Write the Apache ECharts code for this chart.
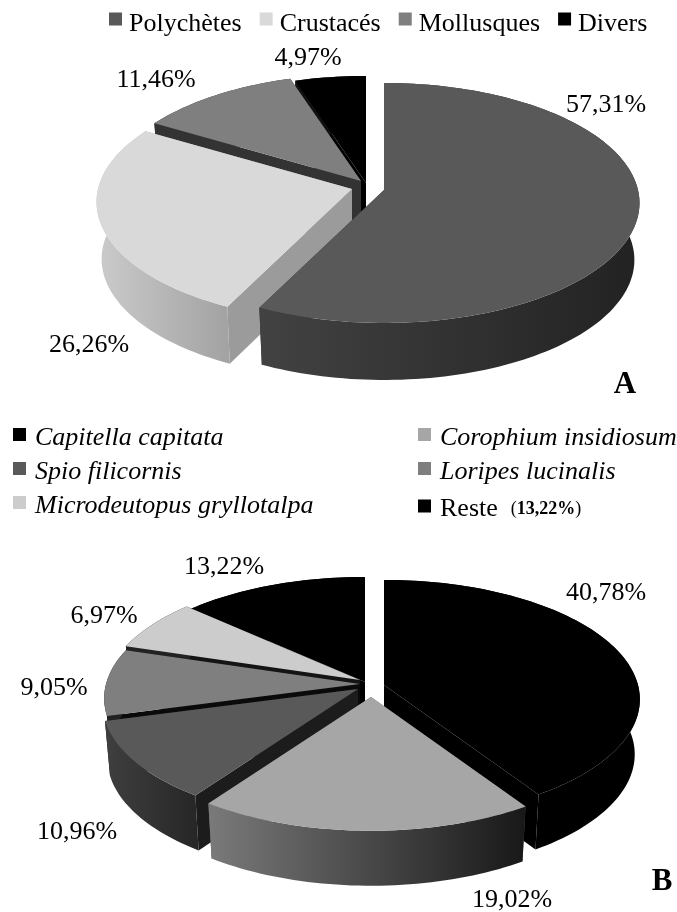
<!DOCTYPE html>
<html><head><meta charset="utf-8">
<style>html,body{margin:0;padding:0;background:#fff}#c{width:677px;height:912px}</style>
<script src="https://cdn.jsdelivr.net/npm/echarts@6/dist/echarts.min.js"></script>
</head><body><div id="c"></div>
<script>
// ---- data ----
const categoriesA = ['Polychètes', 'Crustacés', 'Mollusques', 'Divers'];
const valuesA = [57.31, 26.26, 11.46, 4.97];
const categoriesB = ['Capitella capitata', 'Corophium insidiosum', 'Spio filicornis', 'Loripes lucinalis', 'Microdeutopus gryllotalpa', 'Reste'];
const valuesB = [40.78, 19.02, 10.96, 9.05, 6.97, 13.22];

// ---- styles ----
const FONT = '"Liberation Serif","Times New Roman",serif';
const topA = ['#595959', '#d9d9d9', '#7f7f7f', '#000000'];
const sideA = [['#424242', '#222222'], ['#cbcbcb', '#a2a2a2'], ['#333333', '#333333'], ['#111111', '#111111']];
const faceA = ['#333333', '#9b9b9b', '#333333', '#000000'];
const topB = ['#000000', '#a6a6a6', '#595959', '#7f7f7f', '#cccccc', '#000000'];
const sideB = [['#000000', '#000000'], ['#7a7a7a', '#181818'], ['#3f3f3f', '#262626'], ['#222222', '#222222'], ['#222222', '#222222'], ['#000000', '#000000']];
const faceB = ['#000000', '#5a5a5a', '#1c1c1c', '#0a0a0a', '#141414', '#000000'];

// ---- layout of the two perspective pies ----
const layoutA = {R: 254, Ry: 118.6, p: 0.108, depth: 57, shrink: 0.98,
  apex: [[384, 190], [352, 189], [361, 181], [366, 183]], order: [3, 2, 1, 0]};
const layoutB = {R: 254, Ry: 117.7, p: 0.12, depth: 55, shrink: 0.98,
  apex: [[384, 685], [371, 697], [358, 689], [360, 684], [360, 680], [365, 682]], order: [5, 4, 3, 0, 2, 1]};
const labelPosA = [[606, 105], [89, 345], [156, 80], [308, 58]];
const labelPosB = [[606, 593], [512, 900], [77, 832], [54, 688], [104, 616], [224, 567]];

function project(L, apex, deg, r, bottom) {
  const a = deg * Math.PI / 180, u = r * Math.sin(a), v = r * Math.cos(a), w = 1 + L.p * v;
  const k = bottom ? L.shrink : 1;
  return [apex[0] + k * L.R * u / w, apex[1] - L.Ry * v / w + (bottom ? L.depth : 0)];
}
function arc(L, apex, a0, a1, bottom) {
  const n = Math.max(2, Math.ceil(Math.abs(a1 - a0) / 1.5)), out = [];
  for (let i = 0; i <= n; i++) out.push(project(L, apex, a0 + (a1 - a0) * i / n, 1, bottom));
  return out;
}
function makeSeries(names, values, L, tops, sides, faces) {
  const total = values.reduce((s, x) => s + x, 0);
  let cum = 0;
  return names.map((name, i) => {
    const startPct = cum; cum += values[i];
    return {
      type: 'custom', name, coordinateSystem: 'none', silent: true, animation: false,
      itemStyle: {color: tops[i]}, data: [[values[i], startPct]],
      renderItem(params, api) {
        const a0 = api.value(1) / total * 360, a1 = a0 + api.value(0) / total * 360;
        const apex = L.apex[i], z = L.order.indexOf(i) * 10 + 1;
        const bApex = [apex[0], apex[1] + L.depth];
        const poly = (points, fill, zz) => ({type: 'polygon', shape: {points}, style: {fill, stroke: null}, z2: z + zz});
        const topArc = arc(L, apex, a0, a1, false), botArc = arc(L, apex, a0, a1, true);
        const grad = new echarts.graphic.LinearGradient(0, 0, 1, 0, [{offset: 0, color: sides[i][0]}, {offset: 1, color: sides[i][1]}]);
        return {type: 'group', children: [
          poly([apex, topArc[0], botArc[0], bApex], faces[i], 0),
          poly([apex, topArc[topArc.length - 1], botArc[botArc.length - 1], bApex], faces[i], 0),
          poly(topArc.concat(botArc.slice().reverse()), grad, 1),
          poly([apex].concat(topArc), tops[i], 2)
        ]};
      }
    };
  });
}
const fmt = v => v.toFixed(2).replace('.', ',');
const label = (text, pos, extra) => ({type: 'text', x: pos[0], y: pos[1], z: 50,
  style: Object.assign({text, fill: '#000', font: '26px ' + FONT, align: 'center', verticalAlign: 'middle'}, extra || {})});

const legendBase = {icon: 'rect', itemWidth: 13, itemHeight: 13, selectedMode: false, padding: 0, itemStyle: {borderWidth: 0}};
const base = {fontFamily: FONT, fontSize: 26, color: '#000'};
const textA = Object.assign({}, base, {rich: {t: Object.assign({}, base, {padding: [10, 0, 0, 2]})}});
const textB = Object.assign({}, base, {rich: {
  i: Object.assign({}, base, {fontStyle: 'italic', padding: [7, 0, 0, 4]}),
  n: Object.assign({}, base, {padding: [7, 0, 0, 4]}),
  s: Object.assign({}, base, {fontSize: 18, padding: [7, 0, 0, 0]}),
  b: Object.assign({}, base, {fontSize: 18, fontWeight: 'bold', padding: [7, 0, 0, 0]})}});

const formatA = n => '{t|' + n + '}';
const formatB = n => n === 'Reste' ? '{n|Reste}  {s|(}{b|' + fmt(valuesB[5]) + '%}{s|)}' : '{i|' + n + '}';

const option = {
  backgroundColor: '#fff', animation: false,
  legend: [
    Object.assign({}, legendBase, {data: categoriesA, orient: 'horizontal', left: 109, top: 11, itemGap: 18, textStyle: textA, formatter: formatA}),
    Object.assign({}, legendBase, {data: [categoriesB[0], categoriesB[2], categoriesB[4]], orient: 'vertical', left: 13, top: 425, itemGap: 8, textStyle: textB, formatter: formatB}),
    Object.assign({}, legendBase, {data: [categoriesB[1], categoriesB[3], categoriesB[5]], orient: 'vertical', left: 418, top: 425, itemGap: 8, textStyle: textB, formatter: formatB})
  ],
  graphic: {elements: []
    .concat(valuesA.map((v, i) => label(fmt(v) + '%', labelPosA[i])))
    .concat(valuesB.map((v, i) => label(fmt(v) + '%', labelPosB[i])))
    .concat([label('A', [625, 385], {font: 'bold 31px ' + FONT}), label('B', [662, 882], {font: 'bold 31px ' + FONT})])},
  series: makeSeries(categoriesA, valuesA, layoutA, topA, sideA, faceA)
    .concat(makeSeries(categoriesB, valuesB, layoutB, topB, sideB, faceB))
};
echarts.init(document.getElementById('c'), null, {renderer: 'canvas'}).setOption(option);
</script></body></html>
